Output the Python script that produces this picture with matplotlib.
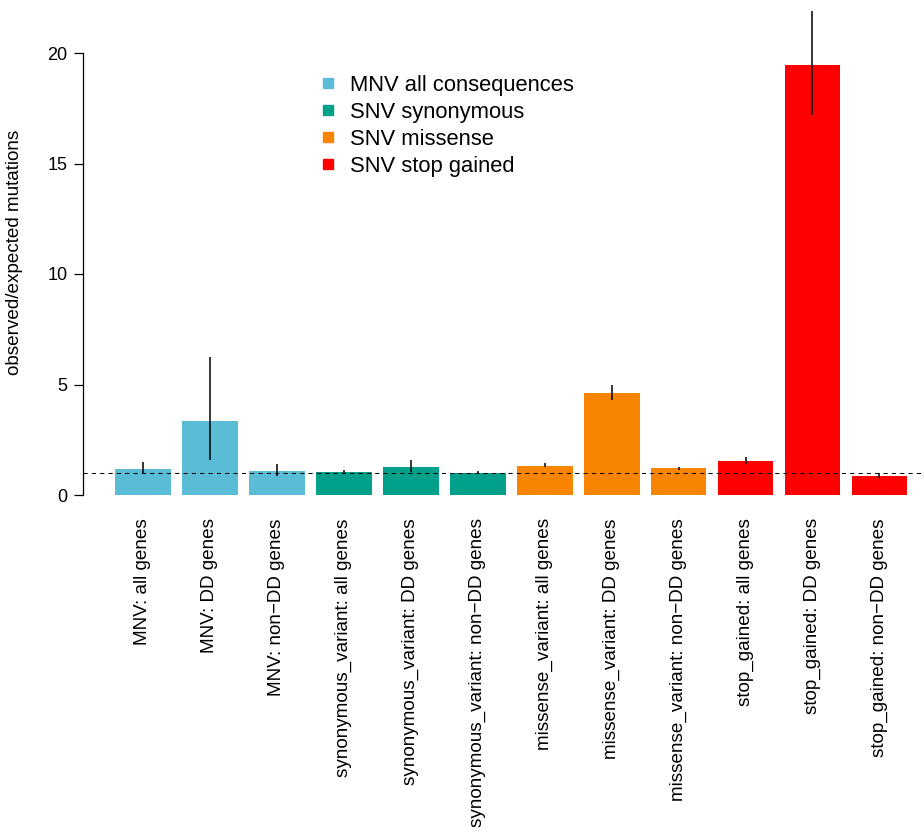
import matplotlib.pyplot as plt
from matplotlib.lines import Line2D

plt.rcParams['font.family'] = ['Liberation Sans', 'DejaVu Sans']

labels = ["MNV: all genes", "MNV: DD genes", "MNV: non\u2212DD genes",
          "synonymous_variant: all genes", "synonymous_variant: DD genes",
          "synonymous_variant: non\u2212DD genes",
          "missense_variant: all genes", "missense_variant: DD genes",
          "missense_variant: non\u2212DD genes",
          "stop_gained: all genes", "stop_gained: DD genes",
          "stop_gained: non\u2212DD genes"]
ratio = [1.18, 3.35, 1.09, 1.04, 1.27, 1.01, 1.33, 4.63, 1.20, 1.52, 19.44, 0.86]
ci_low = [0.95, 1.58, 0.86, 0.98, 1.04, 0.97, 1.28, 4.31, 1.15, 1.40, 17.2, 0.79]
ci_high = [1.49, 6.24, 1.40, 1.13, 1.58, 1.07, 1.43, 5.00, 1.27, 1.71, 21.9, 1.00]
groups = ["MNV all consequences", "SNV synonymous", "SNV missense", "SNV stop gained"]
group_colors = ["#5BBCD6", "#00A08A", "#F98400", "#FF0000"]
group_of_bar = [0, 0, 0, 1, 1, 1, 2, 2, 2, 3, 3, 3]

W, H = 924, 832
fig = plt.figure(figsize=(W / 100, H / 100), dpi=100)

# plot region in pixels (R style barplot)
left_px, bottom_px, top_px, right_px = 83.3, 514, 0, 924
ax = fig.add_axes([left_px / W, 1 - bottom_px / H,
                   (right_px - left_px) / W, (bottom_px - top_px) / H])

unit = 55.8  # px per bar unit
x0 = -0.368
ax.set_xlim(x0, x0 + (right_px - left_px) / unit)
ax.set_ylim(-19 / 22.1, 495 / 22.1)

# bars: width 1, space 0.2
centers = [0.7 + 1.2 * i for i in range(len(ratio))]
colors = [group_colors[g] for g in group_of_bar]
ax.bar(centers, ratio, width=1.0, color=colors, linewidth=0, zorder=1)
ax.vlines(centers, ci_low, ci_high, color="black", lw=1.1, zorder=3)
ax.axhline(1, color="black", lw=0.75, ls=(0, (4, 4)), zorder=2)

for s in ["top", "right", "bottom"]:
    ax.spines[s].set_visible(False)
ax.spines["left"].set_bounds(0, 20)
ax.spines["left"].set_linewidth(0.9)
ax.set_yticks([0, 5, 10, 15, 20])
ax.tick_params(axis="y", length=6.5, width=0.9, pad=5, labelsize=13)
ax.set_xticks(centers)
ax.set_xticklabels(labels, rotation=90, fontsize=13.6)
ax.tick_params(axis="x", length=0, pad=3)

fig.text(15 / W, 1 - 252.5 / H, "observed/expected mutations",
         rotation=90, ha="center", va="center", fontsize=13.6)

handles = [Line2D([], [], marker="s", ls="none", color=c, markersize=7.3)
           for c in group_colors]
ax.legend(handles, groups, loc="upper left", frameon=False, fontsize=15.8,
          handlelength=1, handletextpad=0.5, borderpad=0, borderaxespad=0,
          labelspacing=0.27,
          bbox_to_anchor=(316.75 / W, 1 - 75 / H),
          bbox_transform=fig.transFigure)

fig.savefig("out.png", dpi=100)
